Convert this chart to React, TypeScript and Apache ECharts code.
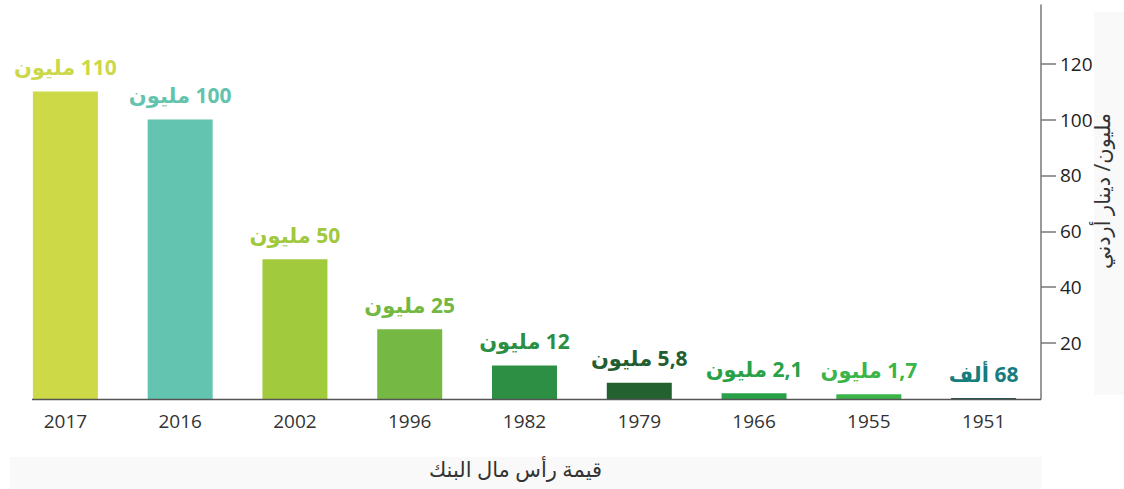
import React, { useEffect, useRef } from "react";
import * as echarts from "echarts";

const years = ["2017", "2016", "2002", "1996", "1982", "1979", "1966", "1955", "1951"];
const values = [110, 100, 50, 25, 12, 5.8, 2.1, 1.7, 0.068];
const valueLabels = [
  "110 مليون",
  "100 مليون",
  "50 مليون",
  "25 مليون",
  "12 مليون",
  "5,8 مليون",
  "2,1 مليون",
  "1,7 مليون",
  "68 ألف",
];
const barColors = ["#cdd946", "#63c4af", "#a2ca3d", "#75b843", "#2c8f44", "#236131", "#28a148", "#3bb54a", "#1f5456"];
const labelColors = ["#cbd84a", "#63c3ae", "#a0c93e", "#74b842", "#2a8f43", "#235e30", "#28a148", "#3bb54a", "#167c7e"];
const yTicks = [20, 40, 60, 80, 100, 120];
const yAxisName = "مليون/ دينار أردني";
const xAxisName = "قيمة رأس مال البنك";

const FONT = "'Open Sans', 'DejaVu Sans', sans-serif";

export default function App() {
  const ref = useRef<HTMLDivElement>(null);
  useEffect(() => {
    if (!ref.current) return;
    const chart = echarts.init(ref.current, null, { renderer: "svg" });
    chart.setOption({
      animation: false,
      backgroundColor: "#ffffff",
      textStyle: { fontFamily: FONT },
      grid: { left: 8, right: 83, top: 5, bottom: 90, containLabel: false, outerBoundsMode: "none" },
      graphic: [
        { type: "rect", z: -10, shape: { x: 1094, y: 12, width: 30, height: 383 }, style: { fill: "#f9f9f9" } },
        { type: "rect", z: -10, shape: { x: 10, y: 457, width: 1032, height: 32 }, style: { fill: "#f9f9f9" } },
        { type: "line", z: 5, shape: { x1: 32, y1: 399.5, x2: 1041, y2: 399.5 }, style: { stroke: "#555555", lineWidth: 1.5 } },
      ],
      xAxis: {
        type: "category",
        data: years,
        axisLine: { show: false },
        axisTick: { show: false },
        axisLabel: { fontSize: 19, color: "#333333", margin: 12, fontFamily: FONT },
        name: xAxisName,
        nameLocation: "middle",
        nameGap: 59,
        nameMoveOverlap: false,
        nameTextStyle: { fontSize: 21, color: "#333333", fontFamily: FONT, padding: [0, 18, 0, 0] },
      },
      yAxis: {
        type: "value",
        position: "right",
        min: 0,
        max: 141,
        interval: 20,
        splitLine: { show: false },
        axisLine: { show: true, lineStyle: { color: "#777777", width: 1.5 } },
        axisTick: { show: true, length: 15, customValues: yTicks, lineStyle: { color: "#777777", width: 1.5 } },
        axisLabel: {
          fontSize: 19,
          color: "#222222",
          margin: 19,
          fontFamily: FONT,
          customValues: yTicks,
        },
        name: yAxisName,
        nameLocation: "middle",
        nameRotate: 90,
        nameGap: 50,
        nameMoveOverlap: false,
        nameTextStyle: { fontSize: 21, color: "#333333", fontFamily: FONT, padding: [0, 0, 0, 22] },
      },
      series: [
        {
          type: "bar",
          barWidth: 65,
          barMinHeight: 1,
          data: values.map((v, i) => ({
            value: v,
            itemStyle: { color: barColors[i] },
            label: { color: labelColors[i] },
          })),
          label: {
            show: true,
            position: "top",
            distance: 14,
            fontSize: 21,
            fontWeight: "bold",
            fontFamily: FONT,
            formatter: (p: any) => "\u200F" + valueLabels[p.dataIndex],
          },
        },
      ],
    });
    return () => chart.dispose();
  }, []);
  return (
    <div
      ref={ref}
      style={{ position: "absolute", left: 0, top: 0, width: 1124, height: 489 }}
    />
  );
}
